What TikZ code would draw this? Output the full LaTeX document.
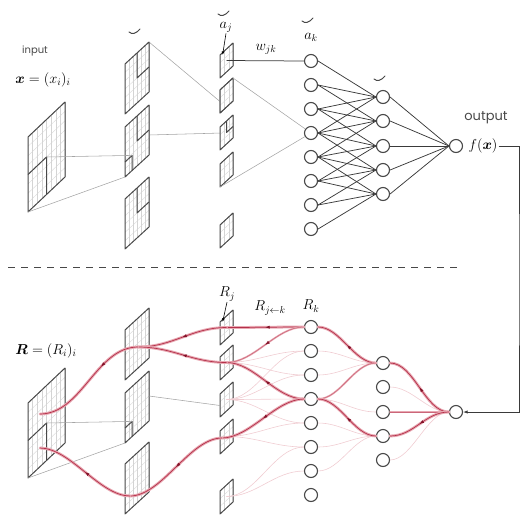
\documentclass[tikz,border=0pt]{standalone}
\usepackage{amsmath}
\usepackage{fontspec}
\newfontfamily\labelfont{Poppins}
\usetikzlibrary{arrows.meta,decorations.markings,calc}

\definecolor{inkc}{RGB}{72,72,72}
\definecolor{gridc}{RGB}{212,212,212}
\definecolor{conec}{RGB}{165,165,165}
\definecolor{relhalo}{RGB}{232,168,178}
\definecolor{relcore}{RGB}{180,48,74}
\definecolor{reltip}{RGB}{130,18,40}
\definecolor{relfaint}{RGB}{240,205,210}

\tikzset{
  planeline/.style={draw=inkc, line width=1pt, line join=round},
  gridline/.style={draw=gridc, line width=0.3pt},
  neuron/.style={circle, draw=inkc, line width=1.1pt, fill=white, minimum size=13pt, inner sep=0pt},
  netline/.style={draw=inkc!80!black, line width=0.75pt},
  coneline/.style={draw=conec, line width=0.55pt},
  breveline/.style={draw=inkc, line width=1pt, line cap=round},
  labelarrow/.style={draw=black, line width=0.6pt, -{Latex[length=3.5pt,width=2.8pt]}},
  mathlabel/.style={inner sep=1pt, font=\fontsize{14}{16}\selectfont},
  wordlabel/.style={inner sep=1pt, text=inkc},
  relthick/.style={preaction={draw=relhalo, line width=2.8pt, line cap=round}, draw=relcore, line width=0.7pt},
  relmid/.style={preaction={draw=relhalo, line width=1.8pt, line cap=round}, draw=relcore!55!relhalo, line width=0.5pt},
  relfaintline/.style={draw=relfaint, line width=0.6pt},
  relarrow/.style={postaction={decorate, decoration={markings,
      mark=at position #1 with {\arrow{Latex[length=4.5pt,width=3.2pt,color=reltip]}}}}},
  relarrow/.default=0.5,
  scurve/.style={to path={.. controls ($(\tikztostart)+(-#1,0)$) and ($(\tikztotarget)+(#1,0)$) .. (\tikztotarget)}},
}

% a sheared feature map: name, corner x, corner y, edge u (right, up), height, grid cells, extra marks
\newcommand\drawplane[8]{%
  \begin{scope}[shift={(#2,#3)}, x={(#4pt,#5pt)}, y={(0pt,#6pt)}]
    \fill[white] (0,0) -- (1,0) -- (1,1) -- (0,1) -- cycle;
    \foreach \g in {1,...,#7} {
      \draw[gridline] (\g/#7,0) -- (\g/#7,1);
      \draw[gridline] (0,\g/#7) -- (1,\g/#7);
    }
    \draw[planeline] (0,0) -- (1,0) -- (1,1) -- (0,1) -- cycle;
    \coordinate (#1-bl) at (0,0);
    \coordinate (#1-br) at (1,0);
    \coordinate (#1-tr) at (1,1);
    \coordinate (#1-tl) at (0,1);
    \coordinate (#1-c) at (0.5,0.5);
    \coordinate (#1-r) at (1,0.5);
    \coordinate (#1-l) at (0,0.5);
    \coordinate (#1-m) at (0.3,0.3);
    \coordinate (#1-k) at (0.2,0.9);
    #8
  \end{scope}}
\newcommand\upperquad{\draw[planeline] (0.5,1) -- (0.5,0.5) -- (1,0.5);}
\newcommand\lowerquad{\draw[planeline] (0,0.5) -- (0.5,0.5) -- (0.5,0);}
\newcommand\cornerbox{\draw[planeline] (0,0.3) -- (0.3,0.3) -- (0.3,0);}
\newcommand\brevemark[2]{\draw[breveline] (#1-5,#2) .. controls (#1-2,#2+2.5) and (#1+2,#2+2) .. (#1+6,#2-3);}

\begin{document}
\begin{tikzpicture}[x=1pt, y=-1pt]
\useasboundingbox (0,0) rectangle (520,515);

% ---------------- forward pass ----------------
\coordinate (L1ta-trx) at (149,42);
\drawplane{L2tbx}{220}{113}{13}{12}{23}{3}{}
\draw[coneline] (L1ta-trx) -- (L2tbx-l);
\coordinate (L1tb-rx) at (149,135);
\coordinate (L2tc-lx) at (222,133);
\draw[coneline] (L1tb-rx) -- (L2tc-lx);

\drawplane{Int}{28}{212}{37}{35}{75}{8}{\lowerquad}
\drawplane{L1ta}{125}{114}{24}{22}{50}{6}{\upperquad}
\drawplane{L1tb}{125}{177}{24}{22}{50}{6}{\upperquad\cornerbox}
\drawplane{L1tc}{125}{249}{24}{22}{50}{6}{\upperquad}
\drawplane{L2ta}{220}{78}{13}{12}{23}{3}{}
\drawplane{L2tb}{220}{113}{13}{12}{23}{3}{}
\drawplane{L2tc}{220}{150}{13}{12}{23}{3}{\upperquad}
\drawplane{L2td}{220}{187}{13}{12}{23}{3}{}
\drawplane{L2te}{220}{248}{13}{12}{23}{3}{}

\draw[coneline] (Int-c) -- (L1tb-m);
\draw[coneline] (Int-bl) -- (L1tb-bl);

\foreach \i/\y in {1/61,2/85,3/109,4/133,5/157,6/181,7/205,8/229}
  \node[neuron] (Kt\i) at (311,\y) {};
\foreach \i/\y in {1/97,2/121,3/146,4/170,5/194}
  \node[neuron] (Jt\i) at (383,\y) {};
\node[neuron] (Ot) at (456,146) {};

\draw[coneline] (L2tb-tr) -- (Kt4);
\draw[coneline] (L2td-bl) -- (Kt4);
\draw[netline] (L2ta-c) -- (Kt1.west);

\foreach \j in {1,...,5} {
  \foreach \d in {0,...,3} {
    \pgfmathtruncatemacro\k{\j+\d}
    \draw[netline] (Kt\k.east) -- (Jt\j.west);
  }
  \draw[netline] (Jt\j.east) -- (Ot.west);
  \fill[inkc] (Jt\j.west) circle (1.2pt);
}
\foreach \k in {3,...,6} \fill[inkc] (Kt\k.east) circle (1.1pt);
\fill[inkc] (Ot.west) circle (1.2pt);

\node[wordlabel, font=\labelfont\fontsize{10}{12}\selectfont] (lblin) at (35,51) {input};
\node[mathlabel] (lblx) at (43,80) {$\boldsymbol{x}=(x_i)_i$};
\node[mathlabel] (lblaj) at (226,27) {$a_j$};
\node[mathlabel] (lblwjk) at (266,49) {$w_{jk}$};
\node[mathlabel] (lblak) at (311,37) {$a_k$};
\node[wordlabel, font=\labelfont\fontsize{13}{15}\selectfont] (lblout) at (486,118) {output};
\node[mathlabel] (fx) at (483,146) {$f(\boldsymbol{x})$};
\draw[labelarrow] (lblaj.south) -- (L2ta-k);

\brevemark{134}{32}
\brevemark{223}{14}
\brevemark{307}{21}
\brevemark{379}{79}

% separator
\coordinate (sepl) at (8,267);
\coordinate (sepr) at (460,267);
\draw[draw=inkc, line width=0.9pt, dash pattern=on 7pt off 6pt] (sepl) -- (sepr);

% ---------------- relevance propagation ----------------
\drawplane{Inb}{28}{478}{37}{35}{75}{8}{\lowerquad}
\drawplane{L1ba}{125}{380}{24}{22}{50}{6}{}
\drawplane{L1bb}{125}{443}{24}{22}{50}{6}{\cornerbox}
\drawplane{L1bc}{125}{514}{24}{22}{50}{6}{}
\drawplane{L2ba}{220}{345}{13}{12}{23}{3}{}
\drawplane{L2bb}{220}{380}{13}{12}{23}{3}{}
\drawplane{L2bc}{220}{417}{13}{12}{23}{3}{}
\drawplane{L2bd}{220}{454}{13}{12}{23}{3}{}
\drawplane{L2be}{220}{514}{13}{12}{23}{3}{}

\draw[coneline] (Inb-c) -- (L1bb-m);
\draw[coneline] (Inb-bl) -- (L1bb-bl);
\draw[coneline] (L1bb-r) -- (L2bc-l);

\foreach \i/\y in {1/327,2/351,3/375,4/399,5/423,6/447,7/471,8/495}
  \node[neuron] (Kb\i) at (311,\y) {};
\foreach \i/\y in {1/363,2/387,3/412,4/436,5/460}
  \node[neuron] (Jb\i) at (383,\y) {};
\node[neuron] (Ob) at (456,412) {};

\coordinate (pconv) at (138,347);
\coordinate (pin1) at (40,414);
\coordinate (plow) at (222,438);
\coordinate (pbot) at (130,496);
\coordinate (pin2) at (40,448);

% weak contributions
\draw[relfaintline] (Ob.west) to[scurve=22] (Jb2.east);
\draw[relfaintline] (Ob.west) to[scurve=22] (Jb5.east);
\draw[relfaintline] (Jb1.west) to[scurve=22] (Kb2.east);
\draw[relfaintline] (Jb1.west) to[scurve=22] (Kb3.east);
\draw[relfaintline] (Jb3.west) to[scurve=22] (Kb4.east);
\draw[relfaintline] (Jb4.west) to[scurve=22] (Kb5.east);
\draw[relfaintline] (Jb4.west) to[scurve=22] (Kb6.east);
\draw[relfaintline] (Jb4.west) to[scurve=22] (Kb7.east);
\draw[relfaintline] (Kb2.west) to[scurve=30] (L2bb-c);
\draw[relfaintline] (Kb3.west) to[scurve=30] (L2bb-c);
\draw[relfaintline] (Kb2.west) to[scurve=30] (L2bc-c);
\draw[relfaintline] (Kb3.west) to[scurve=30] (L2bc-c);
\draw[relfaintline] (Kb4.west) to[scurve=30] (L2bc-c);
\draw[relfaintline] (Kb5.west) to[scurve=30] (L2bc-c);
\draw[relfaintline] (Kb5.west) to[scurve=30] (L2bd-c);
\draw[relfaintline] (Kb6.west) to[scurve=30] (L2bd-c);
\draw[relfaintline] (Kb6.west) to[scurve=30] (L2be-c);
\draw[relfaintline] (Kb7.west) to[scurve=30] (L2be-c);
\draw[relfaintline] (plow) to[scurve=30] (pbot);

% strong contributions
\draw[relmid] (Ob.west) -- (Jb3.east);
\draw[relthick, relarrow] (Ob.west) to[scurve=24] (Jb1.east);
\draw[relthick, relarrow] (Ob.west) to[scurve=24] (Jb4.east);
\draw[relthick, relarrow] (Jb1.west) to[scurve=22] (Kb1.east);
\draw[relmid] (Jb1.west) to[scurve=22] (Kb4.east);
\draw[relthick, relarrow] (Jb4.west) to[scurve=22] (Kb4.east);
\draw[relthick, relarrow] (Kb1.west) to[scurve=25] (L2ba-c);
\draw[relmid, relarrow] (Kb1.west) to[scurve=28] (L2bb-c);
\draw[relthick, relarrow] (Kb4.west) to[scurve=28] (L2bb-c);
\draw[relthick, relarrow] (Kb4.west) to[scurve=28] (plow);
\draw[relthick, relarrow] (L2ba-c) to[scurve=35] (pconv);
\draw[relthick, relarrow] (L2bb-c) to[scurve=35] (pconv);
\draw[relthick, relarrow=0.35] (pconv) to[scurve=42] (pin1);
\draw[relthick, relarrow] (plow) to[scurve=32] (pbot);
\draw[relthick, relarrow] (pbot) to[scurve=30] (pin2);

\node[mathlabel] (lblR) at (46,351) {$\boldsymbol{R}=(R_i)_i$};
\node[mathlabel] (lblRj) at (227,294) {$R_j$};
\node[mathlabel] (lblRjk) at (270,308) {$R_{j\leftarrow k}$};
\node[mathlabel] (lblRk) at (311,306) {$R_k$};
\draw[labelarrow] (lblRj.south) -- (L2ba-k);

% the output is fed back as the relevance of the top unit
\coordinate (retcorner) at (519,280);
\draw[netline, -{Latex[length=4.5pt,width=3.2pt]}] (fx.east) -| (retcorner) |- (Ob.east);
\end{tikzpicture}
\end{document}
